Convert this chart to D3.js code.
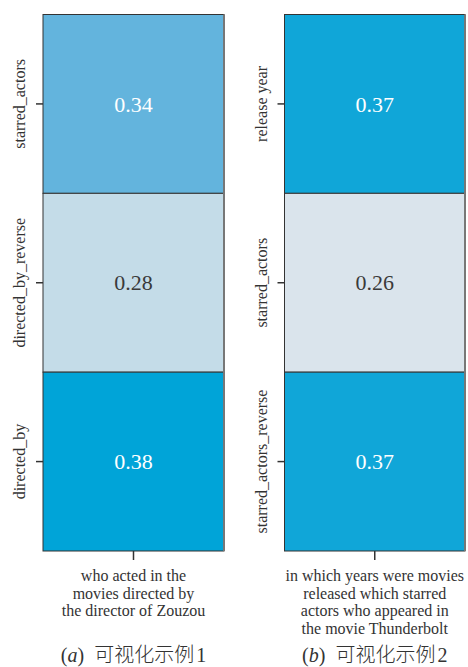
<!DOCTYPE html>
<html><head><meta charset="utf-8">
<script src="https://cdn.jsdelivr.net/npm/d3@7"></script>
<style>body{margin:0;background:#fff} svg text{font-family:"Liberation Serif","Times New Roman",Times,serif}</style>
</head><body>
<svg id="c" width="468" height="667"></svg>
<script>
const rowsA = ["starred_actors", "directed_by_reverse", "directed_by"];
const valuesA = [0.34, 0.28, 0.38];
const colorsA = ["#63b4dd", "#c4dce8", "#00a4d8"];
const xLabelA = ["who acted in the", "movies directed by", "the director of Zouzou"];
const captionA = ["a", "可视化示例", "1"];

const rowsB = ["release year", "starred_actors", "starred_actors_reverse"];
const valuesB = [0.37, 0.26, 0.37];
const colorsB = ["#10a6d8", "#dae4ec", "#10a6d8"];
const xLabelB = ["in which years were movies", "released which starred", "actors who appeared in", "the movie Thunderbolt"];
const captionB = ["b", "可视化示例", "2"];

const svg = d3.select("#c");
const serif = '"Liberation Serif","Times New Roman",Times,serif';
const plotTop = 14.5, plotBottom = 551;

function panel(x0, x1, rows, values, colors, xLabel, caption) {
  const g = svg.append("g");
  const y = d3.scaleBand().domain(rows).range([plotTop, plotBottom]);
  const x = d3.scaleBand().domain(["q"]).range([x0, x1]);
  g.selectAll("rect.cell").data(rows).enter().append("rect")
    .attr("x", x("q")).attr("width", x.bandwidth())
    .attr("y", d => y(d)).attr("height", y.bandwidth())
    .attr("fill", (d, i) => colors[i])
    .attr("stroke", "#333").attr("stroke-width", 1);
  g.append("line").attr("x1", x1).attr("x2", x1).attr("y1", plotTop).attr("y2", plotBottom)
    .attr("stroke", "#777").attr("stroke-width", 2);
  g.selectAll("text.val").data(rows).enter().append("text")
    .attr("x", x("q") + x.bandwidth() / 2).attr("y", d => y(d) + y.bandwidth() / 2)
    .attr("dy", "0.35em").attr("text-anchor", "middle")
    .style("font-family", serif).style("font-size", "22px")
    .attr("fill", (d, i) => values[i] <= d3.min(values) ? "#3a3a3a" : "#fff")
    .text((d, i) => values[i].toFixed(2));
  const ay = g.append("g").attr("transform", `translate(${x0},0)`)
    .call(d3.axisLeft(y).tickSize(7).tickSizeOuter(0).tickPadding(0));
  ay.select(".domain").remove();
  ay.selectAll(".tick line").attr("stroke", "#333").attr("stroke-width", 1.5);
  ay.selectAll(".tick text")
    .style("font-family", serif).style("font-size", "16px").attr("fill", "#333")
    .attr("text-anchor", "middle").attr("x", 0).attr("dy", 0)
    .attr("transform", "translate(-18,0) rotate(-90)");
  const ax = g.append("g").attr("transform", `translate(0,${plotBottom})`)
    .call(d3.axisBottom(x).tickSize(9).tickSizeOuter(0).tickFormat(""));
  ax.select(".domain").remove();
  ax.selectAll(".tick line").attr("stroke", "#333").attr("stroke-width", 1.5);
  const cx = x("q") + x.bandwidth() / 2;
  const t = g.append("text").attr("text-anchor", "middle")
    .style("font-family", serif).style("font-size", "16px").attr("fill", "#333");
  xLabel.forEach((s, i) => t.append("tspan").attr("x", cx).attr("y", 581 + i * 17.5).text(s));
  const c = g.append("text").attr("x", cx).attr("y", 662).attr("text-anchor", "middle")
    .style("font-size", "20px").attr("fill", "#333");
  c.append("tspan").style("font-family", serif).text("(");
  c.append("tspan").style("font-family", serif).style("font-style", "italic").text(caption[0]);
  c.append("tspan").style("font-family", serif).text(")\u2002");
  c.append("tspan").style("font-family", '"Noto Sans CJK SC",sans-serif').style("font-weight", 300).text(caption[1]);
  c.append("tspan").style("font-family", serif).attr("dx", 2).text(caption[2]);
}
panel(43, 224, rowsA, valuesA, colorsA, xLabelA, captionA);
panel(284.5, 465, rowsB, valuesB, colorsB, xLabelB, captionB);
</script>
</body></html>
